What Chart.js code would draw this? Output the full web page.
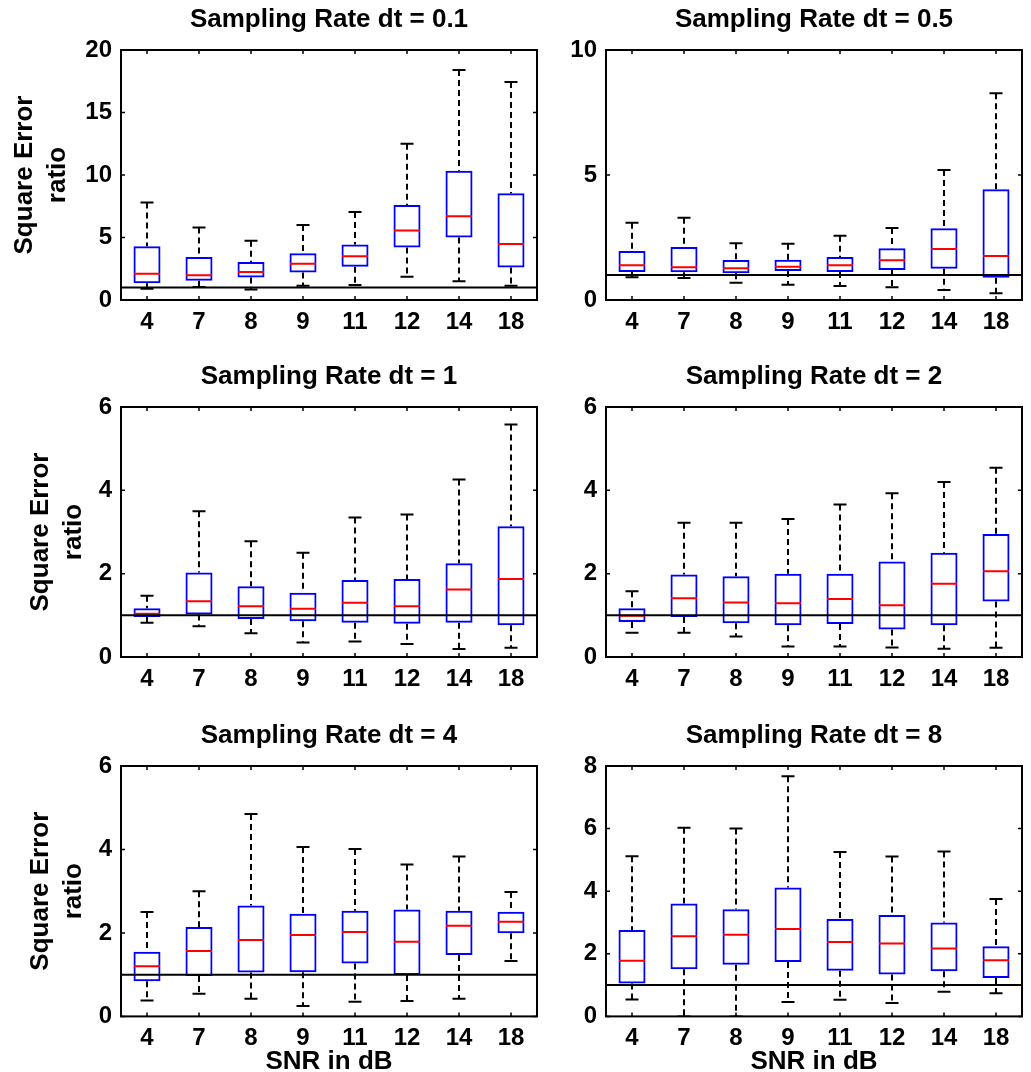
<!DOCTYPE html>
<html>
<head>
<meta charset="utf-8">
<title>Square Error ratio boxplots</title>
<script src="https://cdn.jsdelivr.net/npm/chart.js"></script>
<style>
  html, body { margin: 0; padding: 0; background: #fff; overflow: hidden; }
  body { width: 1031px; height: 1072px; position: relative; }
  canvas { position: absolute; }
</style>
</head>
<body>
<canvas id="p1"></canvas>
<canvas id="p2"></canvas>
<canvas id="p3"></canvas>
<canvas id="p4"></canvas>
<canvas id="p5"></canvas>
<canvas id="p6"></canvas>
<script>
// SNR categories (x axis)
const snr = ['4', '7', '8', '9', '11', '12', '14', '18'];

// dt = 0.1
const dt01Hi  = [7.8, 5.8, 4.75, 6.0, 7.05, 12.5, 18.4, 17.45];
const dt01Q3  = [4.3, 3.45, 3.05, 3.75, 4.45, 7.6, 10.35, 8.55];
const dt01Med = [2.1, 1.98, 2.25, 2.9, 3.5, 5.57, 6.7, 4.48];
const dt01Q1  = [1.35, 1.55, 1.8, 2.2, 2.67, 4.2, 5.0, 2.6];
const dt01Lo  = [0.9, 1.05, 0.85, 1.15, 1.2, 1.87, 1.5, 1.15];

// dt = 0.5
const dt05Hi  = [3.09, 3.29, 2.27, 2.25, 2.57, 2.88, 5.2, 8.27];
const dt05Q3  = [1.96, 2.12, 1.6, 1.61, 1.72, 2.07, 2.87, 4.43];
const dt05Med = [1.39, 1.31, 1.27, 1.33, 1.39, 1.59, 2.04, 1.76];
const dt05Q1  = [1.12, 1.11, 1.07, 1.16, 1.12, 1.2, 1.25, 0.89];
const dt05Lo  = [0.91, 0.88, 0.69, 0.61, 0.56, 0.51, 0.4, 0.27];

// dt = 1
const dt1Hi  = [1.47, 3.5, 2.78, 2.5, 3.35, 3.42, 4.26, 5.58];
const dt1Q3  = [1.17, 2.03, 1.7, 1.54, 1.85, 1.87, 2.25, 3.14];
const dt1Med = [1.04, 1.34, 1.22, 1.16, 1.3, 1.22, 1.62, 1.87];
const dt1Q1  = [0.96, 1.02, 0.91, 0.86, 0.82, 0.8, 0.82, 0.76];
const dt1Lo  = [0.82, 0.74, 0.57, 0.35, 0.37, 0.31, 0.19, 0.22];

// dt = 2
const dt2Hi  = [1.58, 3.22, 3.22, 3.31, 3.66, 3.93, 4.2, 4.54];
const dt2Q3  = [1.17, 1.98, 1.94, 2.0, 2.0, 2.29, 2.5, 2.95];
const dt2Med = [0.99, 1.41, 1.31, 1.29, 1.39, 1.24, 1.76, 2.06];
const dt2Q1  = [0.84, 0.96, 0.81, 0.76, 0.79, 0.66, 0.76, 1.33];
const dt2Lo  = [0.58, 0.58, 0.49, 0.25, 0.25, 0.23, 0.2, 0.22];

// dt = 4
const dt4Hi  = [2.5, 3.0, 4.85, 4.06, 4.01, 3.64, 3.83, 2.98];
const dt4Q3  = [1.55, 2.14, 2.66, 2.46, 2.53, 2.56, 2.53, 2.51];
const dt4Med = [1.2, 1.57, 1.83, 1.95, 2.02, 1.79, 2.17, 2.27];
const dt4Q1  = [0.84, 0.97, 1.05, 1.06, 1.27, 0.99, 1.47, 1.99];
const dt4Lo  = [0.38, 0.54, 0.42, 0.25, 0.35, 0.37, 0.42, 1.33];

// dt = 8
const dt8Hi  = [5.12, 6.03, 6.0, 7.67, 5.25, 5.11, 5.27, 3.75];
const dt8Q3  = [2.76, 3.61, 3.42, 4.12, 3.11, 3.24, 3.0, 2.24];
const dt8Med = [1.78, 2.56, 2.61, 2.79, 2.38, 2.33, 2.17, 1.79];
const dt8Q1  = [1.05, 1.51, 1.65, 1.74, 1.46, 1.34, 1.44, 1.23];
const dt8Lo  = [0.54, 0, 0, 0.46, 0.53, 0.43, 0.79, 0.74];

const refLevel = 1;

const FONT = "'Liberation Sans', Arial, Helvetica, sans-serif";
Chart.defaults.font.family = FONT;
Chart.defaults.color = '#000';

const boxHalf = 0.25;  // half width of box / median, in category units
const capHalf = 0.125; // half width of whisker caps

// frame around plot area + small inward ticks (matlab style)
const framePlugin = {
  id: 'frame',
  afterDatasetsDraw(chart) {
    const { ctx, chartArea: a, scales } = chart;
    ctx.save();
    ctx.strokeStyle = '#000';
    ctx.lineWidth = 1.5;
    ctx.beginPath();
    scales.x.ticks.forEach((t, i) => {
      const px = scales.x.getPixelForTick(i);
      ctx.moveTo(px, a.bottom); ctx.lineTo(px, a.bottom - 4);
      ctx.moveTo(px, a.top); ctx.lineTo(px, a.top + 4);
    });
    scales.y.ticks.forEach((t, i) => {
      const py = scales.y.getPixelForTick(i);
      ctx.moveTo(a.left, py); ctx.lineTo(a.left + 4, py);
      ctx.moveTo(a.right, py); ctx.lineTo(a.right - 4, py);
    });
    ctx.stroke();
    ctx.lineWidth = 2;
    ctx.strokeRect(a.left, a.top, a.right - a.left, a.bottom - a.top);
    ctx.restore();
  }
};

function makePanel(id, title, lo, q1, med, q3, hi, yMax, step, col, row) {
  const canvas = document.getElementById(id);
  const bottomRow = row === 2;
  const leftCol = col === 0;
  const width = leftCol ? 545 : 485;
  const height = bottomRow ? 361 : 340;
  const tops = [0, 357, 716];
  canvas.width = width;
  canvas.height = height;
  canvas.style.left = (leftCol ? 0 : 545) + 'px';
  canvas.style.top = tops[row] + 'px';

  const whisk = [], caps = [], meds = [];
  snr.forEach((s, i) => {
    whisk.push({ x: i, y: hi[i] }, { x: i, y: q3[i] }, { x: i, y: null },
               { x: i, y: q1[i] }, { x: i, y: lo[i] }, { x: i, y: null });
    caps.push({ x: i - capHalf, y: hi[i] }, { x: i + capHalf, y: hi[i] }, { x: i, y: null },
              { x: i - capHalf, y: lo[i] }, { x: i + capHalf, y: lo[i] }, { x: i, y: null });
    meds.push({ x: i - boxHalf, y: med[i] }, { x: i + boxHalf, y: med[i] }, { x: i, y: null });
  });

  const lineBase = { type: 'line', xAxisID: 'xl', yAxisID: 'y', pointRadius: 0, borderWidth: 2,
                     fill: false, tension: 0, spanGaps: false };

  const tickFont = { size: 24, weight: 'bold' };

  new Chart(canvas, {
    type: 'bar',
    data: {
      labels: snr,
      datasets: [
        Object.assign({}, lineBase, { data: whisk, borderColor: '#000', borderDash: [6, 4], order: 5 }),
        Object.assign({}, lineBase, { data: caps, borderColor: '#000', order: 4 }),
        {
          type: 'bar', xAxisID: 'x', yAxisID: 'y',
          data: snr.map((s, i) => [q1[i], q3[i]]),
          backgroundColor: 'rgba(255,255,255,0)',
          borderColor: '#0000ff',
          borderWidth: 2,
          borderSkipped: false,
          grouped: false,
          barPercentage: 0.52,
          categoryPercentage: 1,
          order: 3
        },
        Object.assign({}, lineBase, { data: meds, borderColor: '#ff0000', order: 2 }),
        Object.assign({}, lineBase, {
          data: [{ x: -0.5, y: refLevel }, { x: snr.length - 0.5, y: refLevel }],
          borderColor: '#000', order: 1
        })
      ]
    },
    options: {
      responsive: false,
      animation: false,
      events: [],
      layout: { padding: { top: 4, right: 8, bottom: 0, left: 0 } },
      plugins: {
        legend: { display: false },
        tooltip: { enabled: false },
        title: {
          display: true, text: title, color: '#000', fullSize: false,
          font: { size: 26, weight: 'bold', lineHeight: 1.2 },
          padding: { top: 0, bottom: 14.8 }
        }
      },
      scales: {
        x: {
          type: 'category', labels: snr, offset: true,
          grid: { display: false, drawTicks: false },
          border: { display: false },
          ticks: { font: tickFont, color: '#000', padding: 8, maxRotation: 0, autoSkip: false },
          title: bottomRow ? {
            display: true, text: 'SNR in dB', color: '#000',
            font: { size: 26, weight: 'bold', lineHeight: 1.2 },
            padding: { top: 0, bottom: 0 }
          } : { display: false },
          afterFit: s => { s.height = bottomRow ? 60.6 : 40; }
        },
        xl: {
          type: 'linear', display: false, offset: false,
          grid: { offset: false },
          min: -0.5, max: snr.length - 0.5
        },
        y: {
          type: 'linear', min: 0, max: yMax,
          grid: { display: false, drawTicks: false },
          border: { display: false },
          ticks: { font: tickFont, color: '#000', padding: 9, stepSize: step },
          title: leftCol ? {
            display: true, text: ['Square Error', 'ratio'], color: '#000',
            font: { size: 26, weight: 'bold', lineHeight: 1.27 },
            padding: { top: row === 0 ? 8.5 : 24.5, bottom: 0 }
          } : { display: false },
          afterFit: s => { s.width = leftCol ? 121 : 61; }
        }
      }
    },
    plugins: [framePlugin]
  });
}

makePanel('p1', 'Sampling Rate dt = 0.1', dt01Lo, dt01Q1, dt01Med, dt01Q3, dt01Hi, 20, 5, 0, 0);
makePanel('p2', 'Sampling Rate dt = 0.5', dt05Lo, dt05Q1, dt05Med, dt05Q3, dt05Hi, 10, 5, 1, 0);
makePanel('p3', 'Sampling Rate dt = 1', dt1Lo, dt1Q1, dt1Med, dt1Q3, dt1Hi, 6, 2, 0, 1);
makePanel('p4', 'Sampling Rate dt = 2', dt2Lo, dt2Q1, dt2Med, dt2Q3, dt2Hi, 6, 2, 1, 1);
makePanel('p5', 'Sampling Rate dt = 4', dt4Lo, dt4Q1, dt4Med, dt4Q3, dt4Hi, 6, 2, 0, 2);
makePanel('p6', 'Sampling Rate dt = 8', dt8Lo, dt8Q1, dt8Med, dt8Q3, dt8Hi, 8, 2, 1, 2);
</script>
</body>
</html>
